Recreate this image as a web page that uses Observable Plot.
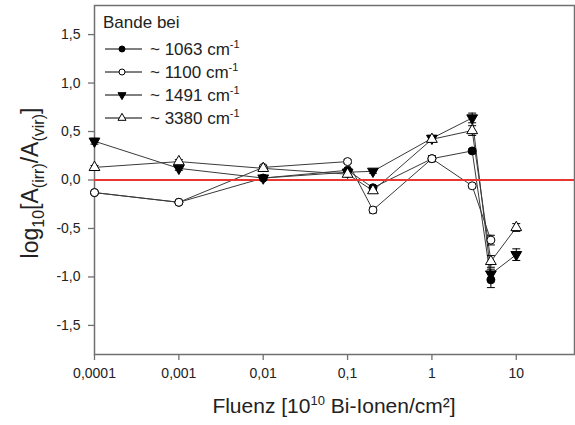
<!DOCTYPE html>
<html>
<head>
<meta charset="utf-8">
<script src="https://cdn.jsdelivr.net/npm/d3@7"></script>
<script src="https://cdn.jsdelivr.net/npm/@observablehq/plot@0.6"></script>
<style>
  html, body { margin: 0; padding: 0; background: #fff; }
  #chart svg { display: block; }
</style>
</head>
<body>
<div id="chart"></div>
<script>
// ---- data ----
const fluence = [0.0001, 0.001, 0.01, 0.1, 0.2, 1, 3, 5, 10];
const bands = ["~ 1063", "~ 1100", "~ 1491", "~ 3380"];
const v1063 = [-0.13, -0.23, 0.02, 0.10, -0.08, 0.22, 0.30, -1.03, null];
const e1063 = [0.01, 0.01, 0.01, 0.01, 0.02, 0.02, 0.02, 0.08, null];
const v1100 = [-0.13, -0.23, 0.13, 0.19, -0.31, 0.22, -0.06, -0.62, null];
const e1100 = [0.01, 0.01, 0.01, 0.02, 0.03, 0.03, 0.02, 0.05, null];
const v1491 = [0.40, 0.12, 0.02, 0.08, 0.09, 0.43, 0.64, -0.97, -0.77];
const e1491 = [0.03, 0.02, 0.01, 0.02, 0.02, 0.03, 0.05, 0.05, 0.06];
const v3380 = [0.13, 0.19, 0.12, 0.06, -0.11, 0.42, 0.51, -0.84, -0.49];
const e3380 = [0.02, 0.02, 0.01, 0.02, 0.02, 0.03, 0.05, 0.06, 0.04];
const xTicks = [0.0001, 0.001, 0.01, 0.1, 1, 10];
const xTickLabels = ["0,0001", "0,001", "0,01", "0,1", "1", "10"];
const yTicks = [-1.5, -1, -0.5, 0, 0.5, 1, 1.5];
const yTickLabels = ["-1,5", "-1,0", "-0,5", "0,0", "0,5", "1,0", "1,5"];

// ---- build table ----
const values = [v1063, v1100, v1491, v3380];
const errors = [e1063, e1100, e1491, e3380];
const rows = [];
bands.forEach((b, i) => {
  fluence.forEach((f, j) => {
    if (values[i][j] != null) rows.push({band: b, x: f, y: values[i][j], e: errors[i][j]});
  });
});

// ---- symbols ----
const sqrt3 = Math.sqrt(3);
const triangleDown = {
  draw(context, size) {
    const y = -Math.sqrt(size / (sqrt3 * 3));
    context.moveTo(0, -y * 2);
    context.lineTo(-sqrt3 * y, y);
    context.lineTo(sqrt3 * y, y);
    context.closePath();
  }
};
const cap = {
  draw(context, size) {
    context.moveTo(-4, 0);
    context.lineTo(4, 0);
  }
};
const styles = [
  {symbol: d3.symbolCircle, fill: "#000"},
  {symbol: d3.symbolCircle, fill: "#fff"},
  {symbol: triangleDown, fill: "#000"},
  {symbol: d3.symbolTriangle, fill: "#fff"}
];

const lineColor = "#3a3a3a";
const frameColor = "#707070";

const dotMarks = bands.map((b, i) => Plot.dot(rows.filter(d => d.band === b), {
  x: "x", y: "y", symbol: styles[i].symbol, r: 4,
  fill: styles[i].fill, stroke: "#000", strokeWidth: 1
}));

const chart = Plot.plot({
  width: 575,
  height: 425,
  marginLeft: 94,
  marginRight: 1,
  marginTop: 5,
  marginBottom: 71,
  style: {fontFamily: "'Liberation Sans', Arial, sans-serif", fontSize: "14px", background: "#fff", color: "#222"},
  x: {type: "log", domain: [0.0001, 49]},
  y: {domain: [-1.8, 1.8]},
  marks: [
    Plot.axisX({ticks: xTicks, tickFormat: d => xTickLabels[xTicks.indexOf(d)], tickSize: 6, tickPadding: 8,
      label: null, stroke: frameColor, fill: "#222", strokeWidth: 1.3}),
    Plot.axisY({ticks: yTicks, tickFormat: d => yTickLabels[yTicks.indexOf(d)], tickSize: 6, tickPadding: 8,
      label: null, stroke: frameColor, fill: "#222", strokeWidth: 1.3}),
    Plot.frame({stroke: frameColor, strokeWidth: 1.5}),
    Plot.line(rows, {x: "x", y: "y", z: "band", stroke: lineColor, strokeWidth: 1}),
    Plot.ruleY([0], {stroke: "#e8372c", strokeWidth: 2}),
    Plot.ruleX(rows, {x: "x", y1: d => d.y - d.e, y2: d => d.y + d.e, stroke: "#000", strokeWidth: 1}),
    Plot.dot(rows, {x: "x", y: d => d.y + d.e, symbol: cap, stroke: "#000", fill: "none", strokeWidth: 1}),
    Plot.dot(rows, {x: "x", y: d => d.y - d.e, symbol: cap, stroke: "#000", fill: "none", strokeWidth: 1}),
    ...dotMarks
  ]
});

document.getElementById("chart").appendChild(chart);

// ---- titles and legend ----
const svg = d3.select(chart);
const font = "'Liberation Sans', Arial, sans-serif";

// x title
const xt = svg.append("text")
  .attr("x", 334).attr("y", 413)
  .attr("text-anchor", "middle")
  .attr("font-family", font).attr("font-size", 21).attr("fill", "#222");
xt.append("tspan").text("Fluenz [10");
xt.append("tspan").attr("dy", -8).attr("font-size", 13).text("10");
xt.append("tspan").attr("dy", 8).text(" Bi-Ionen/cm²]");

// y title
const yt = svg.append("text")
  .attr("transform", "translate(38,183) rotate(-90)")
  .attr("text-anchor", "middle")
  .attr("font-family", font).attr("font-size", 23).attr("fill", "#222");
yt.append("tspan").text("log");
yt.append("tspan").attr("dy", 6).attr("font-size", 16).text("10");
yt.append("tspan").attr("dy", -6).text("[A");
yt.append("tspan").attr("dy", 6).attr("font-size", 16).text("(irr)");
yt.append("tspan").attr("dy", -6).text("/A");
yt.append("tspan").attr("dy", 6).attr("font-size", 16).text("(vir)");
yt.append("tspan").attr("dy", -6).text("]");

// legend
const lg = svg.append("g").attr("font-family", font).attr("fill", "#222").attr("text-anchor", "start");
lg.append("text").attr("x", 103).attr("y", 28).attr("font-size", 17).attr("text-anchor", "start").text("Bande bei");
const rowY = [49, 72, 95, 118];
bands.forEach((b, i) => {
  const y = rowY[i];
  lg.append("line").attr("x1", 105).attr("x2", 142).attr("y1", y).attr("y2", y)
    .attr("stroke", "#000").attr("stroke-width", 1);
  lg.append("path").attr("transform", `translate(122,${y})`)
    .attr("d", d3.symbol(styles[i].symbol, 28)())
    .attr("fill", styles[i].fill).attr("stroke", "#000").attr("stroke-width", 1);
  const t = lg.append("text").attr("x", 150).attr("y", y + 6).attr("font-size", 17).attr("text-anchor", "start");
  t.append("tspan").text(b + " cm");
  t.append("tspan").attr("dy", -7).attr("font-size", 11).text("-1");
});
</script>
</body>
</html>
